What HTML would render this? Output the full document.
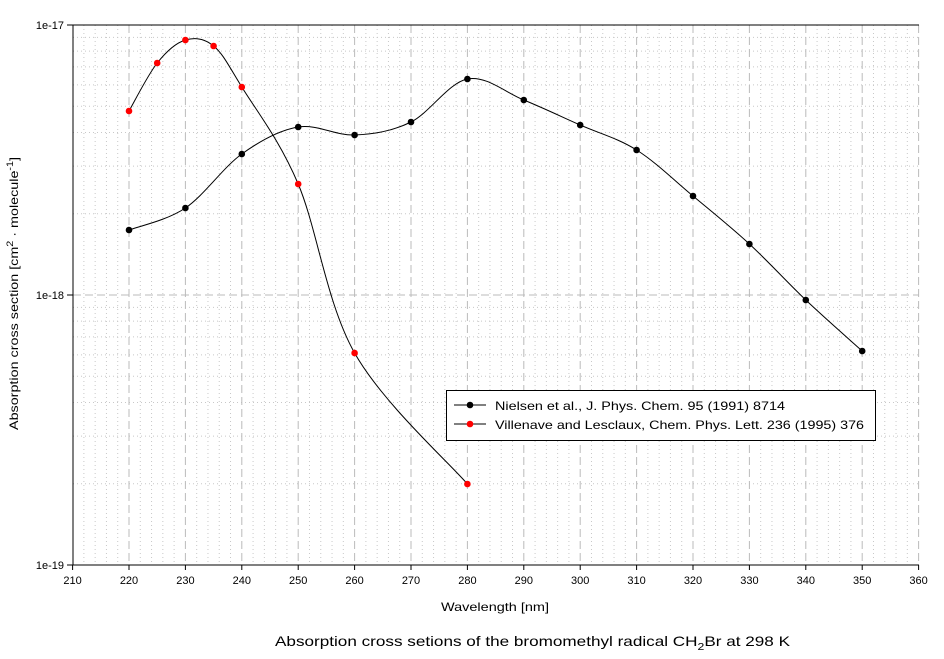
<!DOCTYPE html>
<html><head><meta charset="utf-8"><style>
html,body{margin:0;padding:0;background:#fff;}
svg{display:block;font-family:"Liberation Sans",sans-serif;}
</style></head><body>
<svg id="s" width="944" height="659" viewBox="0 0 944 659" xmlns="http://www.w3.org/2000/svg"></svg>
<script>
const s=document.getElementById('s');
const X=v=>72.6+(v-210)*5.64, Y=l=>565-(l+19)*270;
let h='';
for(let v=210;v<=360;v+=2){if(v%10==0)continue;h+=`<line x1="${X(v)}" y1="25" x2="${X(v)}" y2="565" stroke="#c8c8c8" stroke-dasharray="1,3"/>`;}
for(let d=-19;d<-17;d++)for(let m=2;m<=9;m++){const y=Y(d+Math.log10(m));h+=`<line x1="73" y1="${y}" x2="919" y2="${y}" stroke="#c8c8c8" stroke-dasharray="1,3"/>`;}
for(let v=220;v<=360;v+=10){h+=`<line x1="${X(v)}" y1="25" x2="${X(v)}" y2="565" stroke="#bbb" stroke-dasharray="8,4"/>`;}
h+=`<line x1="73" y1="295" x2="919" y2="295" stroke="#bbb" stroke-dasharray="8,4"/>`;
h+=`<path d="M919 25H73V565H919" fill="none" stroke="#000"/>`;
for(let v=210;v<=360;v+=10){h+=`<line x1="${X(v)}" y1="565" x2="${X(v)}" y2="570" stroke="#000"/><text x="${X(v)}" y="584" font-size="11" text-anchor="middle">${v}</text>`;}
[["1e-17",25],["1e-18",295],["1e-19",565]].forEach(([t,y])=>{h+=`<line x1="67" y1="${y}" x2="73" y2="${y}" stroke="#000"/><text x="64" y="${y+4}" font-size="11" text-anchor="end">${t}</text>`;});
h+=`<text x="441" y="611" font-size="12" textLength="108" lengthAdjust="spacingAndGlyphs">Wavelength [nm]</text>`;
h+=`<text transform="translate(18,430) rotate(-90)" font-size="12" textLength="273" lengthAdjust="spacingAndGlyphs">Absorption cross section [cm<tspan dy="-5" font-size="9">2</tspan><tspan dy="5"> · molecule</tspan><tspan dy="-5" font-size="9">-1</tspan><tspan dy="5">]</tspan></text>`;
h+=`<text x="275" y="646" font-size="14" textLength="515" lengthAdjust="spacingAndGlyphs">Absorption cross setions of the bromomethyl radical CH<tspan dy="4" font-size="10">2</tspan><tspan dy="-4">Br at 298 K</tspan></text>`;
function curve(pts){let d=`M${pts[0][0]} ${pts[0][1]}`;for(let i=0;i<pts.length-1;i++){const p0=pts[Math.max(0,i-1)],p1=pts[i],p2=pts[i+1],p3=pts[Math.min(pts.length-1,i+2)];d+=`C${p1[0]+(p2[0]-p0[0])/6} ${p1[1]+(p2[1]-p0[1])/6} ${p2[0]-(p3[0]-p1[0])/6} ${p2[1]-(p3[1]-p1[1])/6} ${p2[0]} ${p2[1]}`;}return d;}
const A=[[220,230],[230,208],[240,154],[250,127],[260,135],[270,122],[280,79],[290,100],[300,125],[310,150],[320,196],[330,244],[340,300],[350,351]].map(p=>[X(p[0]),p[1]]);
const B=[[220,111],[225,63],[230,40],[235,46],[240,87],[250,184],[260,353],[280,484]].map(p=>[X(p[0]),p[1]]);
h+=`<path d="${curve(A)}" fill="none" stroke="#000"/><path d="${curve(B)}" fill="none" stroke="#000"/>`;
A.forEach(p=>h+=`<circle cx="${p[0]}" cy="${p[1]}" r="3.3" fill="#000"/>`);
B.forEach(p=>h+=`<circle cx="${p[0]}" cy="${p[1]}" r="3.3" fill="#f00"/>`);
h+=`<rect x="446.5" y="390.5" width="429" height="50" fill="#fff" stroke="#000"/>`;
h+=`<line x1="454" y1="405" x2="486" y2="405" stroke="#000"/><circle cx="470" cy="405" r="3.3" fill="#000"/><text x="495" y="410" font-size="12" textLength="290" lengthAdjust="spacingAndGlyphs">Nielsen et al., J. Phys. Chem. 95 (1991) 8714</text>`;
h+=`<line x1="454" y1="424" x2="486" y2="424" stroke="#000"/><circle cx="470" cy="424" r="3.3" fill="#f00"/><text x="495" y="429" font-size="12" textLength="369" lengthAdjust="spacingAndGlyphs">Villenave and Lesclaux, Chem. Phys. Lett. 236 (1995) 376</text>`;
s.innerHTML=h;
</script>
</body></html>
